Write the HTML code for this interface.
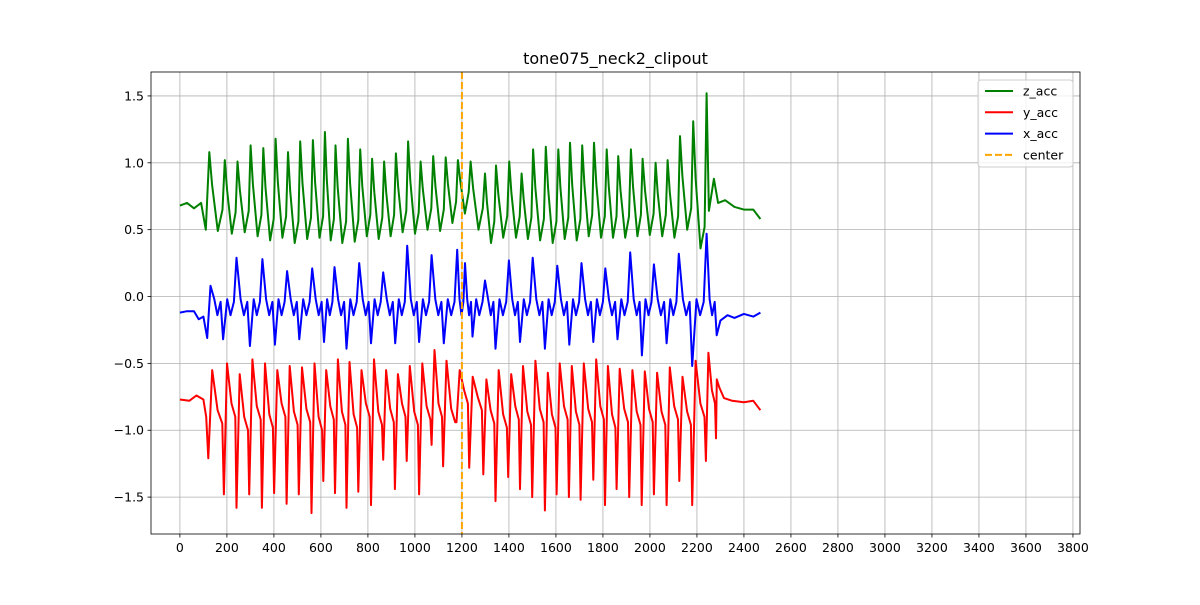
<!DOCTYPE html>
<html><head><meta charset="utf-8"><style>
body{margin:0;background:#fff;font-family:"Liberation Sans","DejaVu Sans",sans-serif;}
svg text{font-family:"DejaVu Sans","Liberation Sans",sans-serif;}
</style></head><body>
<svg id="chart" width="1200" height="600" xmlns="http://www.w3.org/2000/svg"></svg>
<script>
const xTicks=[0,200,400,600,800,1000,1200,1400,1600,1800,2000,2200,2400,2600,2800,3000,3200,3400,3600,3800];
const yTicks=[-1.5,-1.0,-0.5,0.0,0.5,1.0,1.5];
const centerX=1200;
const zPeakX=[125,191,245,301,355,407,460,512,566,617,662,715,767,818,869,919,971,1024,1078,1131,1183,1237,1298,1345,1401,1454,1503,1557,1610,1660,1712,1762,1816,1865,1919,1969,2024,2075,2128,2184,2241];
const zPeakV=[1.08,1.02,1.01,1.13,1.11,1.18,1.08,1.16,1.17,1.23,1.13,1.18,1.10,1.03,1.01,1.07,1.16,1.01,1.05,1.04,1.02,1.01,0.92,0.98,1.01,0.92,1.10,1.12,1.10,1.15,1.13,1.15,1.10,1.05,1.10,1.03,1.00,1.02,1.20,1.31,1.52];
const zTroughV=[0.49,0.47,0.48,0.45,0.42,0.44,0.40,0.43,0.44,0.42,0.40,0.41,0.45,0.43,0.45,0.48,0.47,0.50,0.49,0.55,0.62,0.50,0.40,0.44,0.44,0.43,0.42,0.40,0.43,0.42,0.45,0.44,0.44,0.44,0.45,0.46,0.45,0.44,0.50,0.36,0.64];
const zStartX=[0,30,60,90,110], zStartV=[0.68,0.70,0.66,0.70,0.50];
const zTailX=[2272,2290,2320,2360,2400,2440,2470], zTailV=[0.88,0.70,0.72,0.67,0.65,0.65,0.58];
const redTroughX=[121,187,241,295,349,401,454,506,560,610,660,709,759,813,865,915,965,1018,1071,1120,1177,1231,1291,1343,1397,1447,1499,1553,1603,1655,1705,1759,1809,1858,1912,1965,2017,2071,2125,2180,2238,2281];
const redTroughV=[-1.21,-1.48,-1.58,-1.48,-1.58,-1.47,-1.55,-1.48,-1.62,-1.38,-1.47,-1.58,-1.46,-1.56,-1.22,-1.44,-1.23,-1.48,-1.11,-1.27,-0.94,-1.28,-1.33,-1.53,-1.35,-1.44,-1.50,-1.60,-1.48,-1.50,-1.52,-1.37,-1.56,-1.44,-1.50,-1.56,-1.48,-1.56,-1.38,-1.56,-1.23,-1.06];
const redPeakV=[-0.55,-0.50,-0.58,-0.47,-0.50,-0.55,-0.52,-0.53,-0.50,-0.55,-0.47,-0.49,-0.55,-0.47,-0.55,-0.58,-0.52,-0.50,-0.40,-0.48,-0.55,-0.60,-0.62,-0.55,-0.58,-0.52,-0.48,-0.57,-0.50,-0.52,-0.50,-0.47,-0.52,-0.54,-0.55,-0.56,-0.57,-0.53,-0.60,-0.48,-0.42,-0.62];
const redMidV=[-0.85,-0.80,-0.90,-0.82,-0.88,-0.80,-0.86,-0.84,-0.90,-0.82,-0.86,-0.88,-0.80,-0.86,-0.84,-0.80,-0.86,-0.82,-0.80,-0.84,-0.70,-0.75,-0.85,-0.88,-0.82,-0.86,-0.84,-0.88,-0.82,-0.86,-0.84,-0.82,-0.88,-0.84,-0.86,-0.84,-0.86,-0.82,-0.86,-0.80,-0.70,-0.78];
const redStartX=[0,40,70,100,112], redStartV=[-0.77,-0.78,-0.74,-0.77,-0.90];
const redTailX=[2295,2315,2350,2400,2440,2470], redTailV=[-0.68,-0.76,-0.78,-0.79,-0.78,-0.85];
const blueSpikeX=[130,241,351,456,563,658,763,865,967,1071,1180,1213,1298,1400,1501,1606,1709,1810,1916,2017,2123,2241];
const blueSpikeV=[0.08,0.29,0.28,0.19,0.21,0.22,0.25,0.18,0.38,0.31,0.35,0.25,0.12,0.27,0.29,0.23,0.25,0.21,0.33,0.24,0.32,0.47];
const blueTroughX=[116,184,298,404,508,613,709,813,916,1018,1123,1245,1343,1447,1553,1657,1759,1862,1966,2071,2180,2284];
const blueTroughV=[-0.31,-0.32,-0.37,-0.36,-0.32,-0.34,-0.39,-0.35,-0.35,-0.34,-0.35,-0.30,-0.39,-0.34,-0.39,-0.36,-0.34,-0.32,-0.44,-0.35,-0.52,-0.29];
const blueStartX=[0,30,60,80,100], blueStartV=[-0.12,-0.11,-0.11,-0.17,-0.15];
const blueTailX=[2300,2330,2360,2400,2440,2470], blueTailV=[-0.18,-0.14,-0.16,-0.13,-0.15,-0.12];

const L=151,R=1080,T=72,B=534;
const X0=-123,X1=3830,Y0=-1.776,Y1=1.679;
const sx=v=>L+(v-X0)/(X1-X0)*(R-L);
const sy=v=>B-(v-Y0)/(Y1-Y0)*(B-T);
const svg=document.getElementById('chart');
const NS='http://www.w3.org/2000/svg';
function mk(tag,attrs,parent){const e=document.createElementNS(NS,tag);for(const k in attrs)e.setAttribute(k,attrs[k]);(parent||svg).appendChild(e);return e;}

const grid=mk('g',{});


const xt=mk('g',{});


xTicks.forEach(t=>{const x=sx(t);
 mk('line',{x1:x,x2:x,y1:T,y2:B,stroke:'#b0b0b0','stroke-width':0.8},grid);
 mk('line',{x1:x,x2:x,y1:B,y2:B+3.5,stroke:'#000','stroke-width':0.8},xt);
 const tx=mk('text',{x:x,y:B+18,'text-anchor':'middle','font-size':12.5},xt);tx.textContent=String(t);
 
 
});
const yt=mk('g',{});


yTicks.forEach(t=>{const y=sy(t);
 mk('line',{x1:L,x2:R,y1:y,y2:y,stroke:'#b0b0b0','stroke-width':0.8},grid);
 mk('line',{x1:L-3.5,x2:L,y1:y,y2:y,stroke:'#000','stroke-width':0.8},yt);
 const tx=mk('text',{x:L-7,y:y+4.5,'text-anchor':'end','font-size':12.5},yt);tx.textContent=t.toFixed(1).replace('-','\u2212');
 
 
});

function path(pts,color,name){
 const d=pts.map((p,i)=>(i?'L':'M')+sx(p[0]).toFixed(1)+','+sy(p[1]).toFixed(1)).join('');
 const e=mk('path',{d:d,fill:'none',stroke:color,'stroke-width':2,'stroke-linejoin':'round'});
 
 
}
// z
let zp=zStartX.map((x,i)=>[x,zStartV[i]]);
zPeakX.forEach((x,i)=>{zp.push([x,zPeakV[i]]);
 if(i<zPeakX.length-1){const g=zPeakX[i+1]-x;
  zp.push([x+g*0.18,(zPeakV[i]+zTroughV[i])*0.5+0.05]);
  zp.push([x+g*0.55,zTroughV[i]]);
  zp.push([x+g*0.85,zTroughV[i]+0.16]);}
 else zp.push([x+10,zTroughV[i]]);
});
zTailX.forEach((x,i)=>zp.push([x,zTailV[i]]));
path(zp,'green','z-acc-line');
// red
let rp=redStartX.map((x,i)=>[x,redStartV[i]]);
redTroughX.forEach((x,i)=>{rp.push([x,redTroughV[i]]);
 const g=i<redTroughX.length-1?redTroughX[i+1]-x:14;
 rp.push([x+g*0.25,redPeakV[i]]);
 if(i<redTroughX.length-1){rp.push([x+g*0.6,redMidV[i]]);rp.push([x+g*0.9,redMidV[i]-0.1]);}
});
redTailX.forEach((x,i)=>rp.push([x,redTailV[i]]));
path(rp,'red','y-acc-line');
// blue
let bk=blueSpikeX.map((x,i)=>[x,blueSpikeV[i]]).concat(blueTroughX.map((x,i)=>[x,blueTroughV[i]])).sort((a,b)=>a[0]-b[0]);
let bp=blueStartX.map((x,i)=>[x,blueStartV[i]]);
bk.forEach((p,i)=>{bp.push(p);if(i<bk.length-1){const g=bk[i+1][0]-p[0];
 if(g>20){bp.push([p[0]+g*0.3,-0.02]);bp.push([p[0]+g*0.55,-0.14]);bp.push([p[0]+g*0.8,-0.04]);}}});
blueTailX.forEach((x,i)=>bp.push([x,blueTailV[i]]));
path(bp,'blue','x-acc-line');
// center
const c=mk('line',{x1:sx(centerX),x2:sx(centerX),y1:T,y2:B,stroke:'orange','stroke-width':2,'stroke-dasharray':'7,3'});


// frame
const fr=mk('rect',{x:L,y:T,width:R-L,height:B-T,fill:'none',stroke:'#000','stroke-width':0.8});


const ti=mk('text',{x:(L+R)/2,y:T-8,'text-anchor':'middle','font-size':16});ti.textContent='tone075_neck2_clipout';


// legend
const lg=mk('g',{});


mk('rect',{x:978,y:80,width:95,height:87,rx:3,fill:'#fff','fill-opacity':0.8,stroke:'#ccc','stroke-width':1},lg);
const items=[['z_acc','green',''],['y_acc','red',''],['x_acc','blue',''],['center','orange','7,3']];
items.forEach((it,i)=>{const y=91+i*21.3;
 const ln=mk('line',{x1:985,x2:1013,y1:y,y2:y,stroke:it[1],'stroke-width':2,'stroke-dasharray':it[2]||'none'},lg);
 
 
 const t=mk('text',{x:1023,y:y+4.5,'font-size':12.5},lg);t.textContent=it[0];
 
 
});
</script>
</body></html>
